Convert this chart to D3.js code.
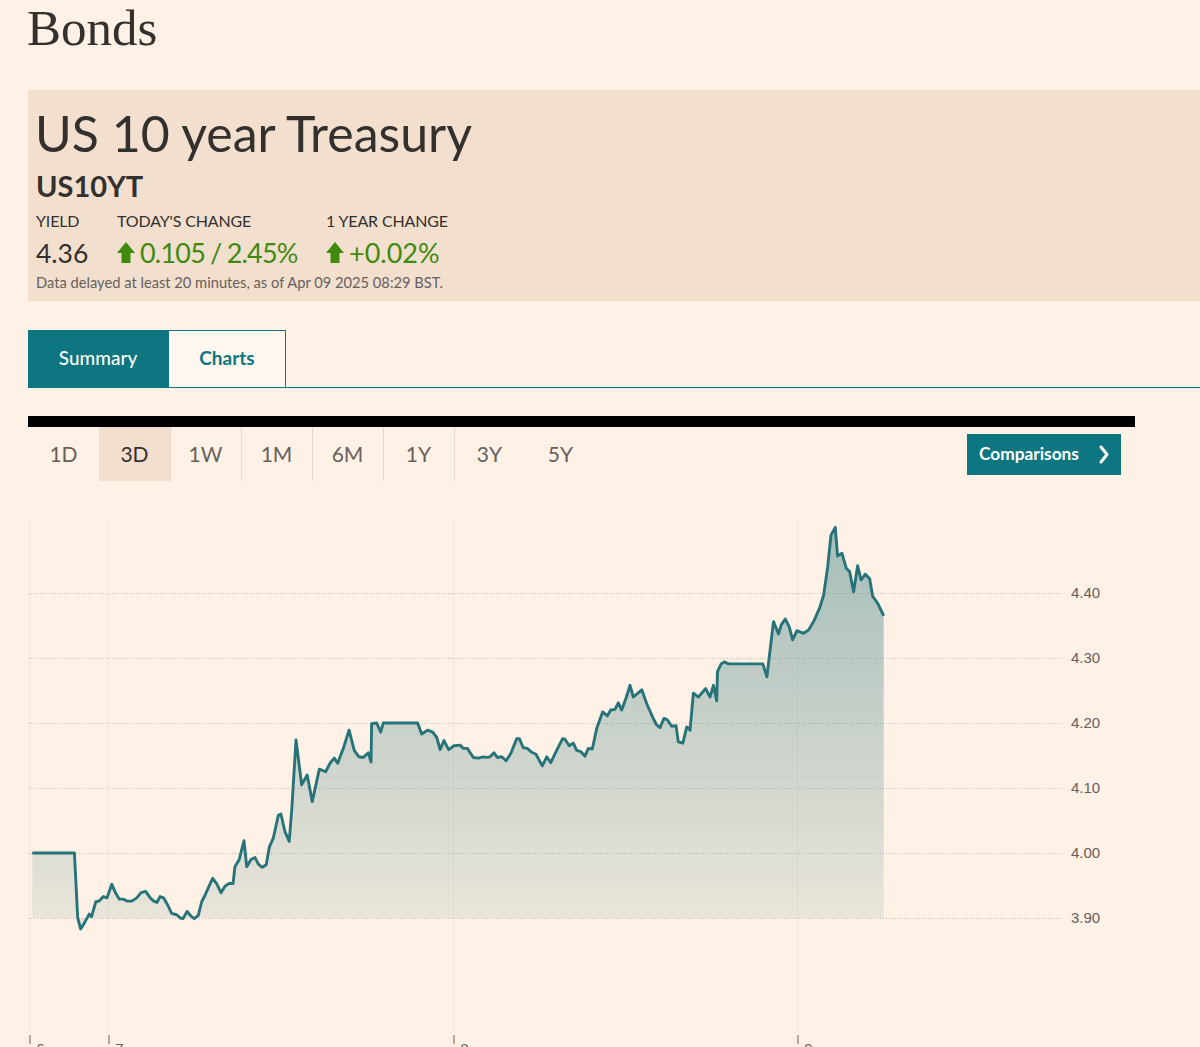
<!DOCTYPE html>
<html>
<head>
<meta charset="utf-8">
<script src="https://cdn.jsdelivr.net/npm/d3@7"></script>
<style>
  html, body { margin: 0; padding: 0; background: #fff1e5; overflow: hidden; }
  svg { display: block; }
</style>
</head>
<body>
<svg id="page" width="1200" height="1047"></svg>
<script>
"use strict";

// Data (hours since Apr 6 00:00, yield %)
const hours = [
  1.0, 13.8, 14.8, 15.7, 17.0, 18.3, 19.0, 20.3, 21.3, 22.6, 23.7,
  24.26, 24.54, 24.79, 25.09, 25.32, 25.65, 26.0, 26.3, 26.62, 26.94,
  27.18, 27.41, 27.62, 27.87, 28.15, 28.43, 28.78, 29.03, 29.22, 29.5,
  29.77, 30.0, 30.28, 30.52, 30.75, 31.03, 31.28, 31.56, 31.86, 32.14,
  32.42, 32.7, 32.83, 33.13, 33.46, 33.65, 33.95, 34.23, 34.46, 34.73,
  35.01, 35.22, 35.5, 35.85, 36.03, 36.31, 36.61, 36.78, 37.08, 37.47,
  37.86, 38.21, 38.7, 39.14, 39.44, 39.74, 39.98, 40.37, 40.77, 41.13,
  41.46, 41.76, 42.11, 42.3, 42.34, 42.69, 42.97, 43.15, 45.54, 45.82,
  46.24, 46.59, 46.87, 47.1, 47.37, 47.7, 48.07, 48.49, 48.72, 49.0,
  49.42, 49.77, 50.11, 50.35, 50.58, 50.86, 51.09, 51.4, 51.7, 52.03,
  52.45, 52.63, 52.9, 53.18, 53.49, 53.79, 54.23, 54.54, 54.82, 55.23,
  55.65, 55.81, 56.11, 56.39, 56.63, 56.91, 57.21, 57.44, 57.72, 58.03,
  58.44, 58.77, 59.0, 59.3, 59.53, 59.77, 60.07, 60.35, 60.58, 61.17,
  61.51, 61.97, 62.21, 62.44, 62.72, 62.95, 63.26, 63.56, 63.72, 64.03,
  64.31, 64.54, 64.77, 65.12, 65.63, 65.93, 66.17, 66.4, 66.45, 66.71,
  66.92, 67.22, 69.62, 69.9, 70.36, 70.71, 70.9, 71.18, 71.46, 71.69,
  72.0, 72.46, 72.81, 73.16, 73.58, 73.86, 74.14, 74.37, 74.67, 74.83,
  75.14, 75.44, 75.67, 75.95, 76.23, 76.47, 76.77, 77.07, 77.28, 77.63,
  78.05
];
const yields = [
  4.000, 4.000, 3.900, 3.883, 3.894, 3.906, 3.902, 3.925, 3.926, 3.933, 3.931,
  3.952, 3.938, 3.929, 3.929, 3.926, 3.926, 3.931, 3.939, 3.941, 3.931,
  3.926, 3.924, 3.933, 3.931, 3.920, 3.907, 3.905, 3.900, 3.899, 3.910,
  3.903, 3.899, 3.904, 3.925, 3.935, 3.949, 3.961, 3.953, 3.939, 3.949,
  3.953, 3.953, 3.979, 3.990, 4.019, 3.979, 3.990, 3.993, 3.983, 3.978,
  3.982, 4.009, 4.023, 4.058, 4.060, 4.033, 4.018, 4.066, 4.174, 4.105,
  4.120, 4.079, 4.129, 4.125, 4.138, 4.146, 4.138, 4.161, 4.189, 4.158,
  4.148, 4.147, 4.154, 4.140, 4.199, 4.200, 4.186, 4.200, 4.200, 4.183,
  4.189, 4.186, 4.178, 4.159, 4.173, 4.159, 4.165, 4.166, 4.161, 4.161,
  4.147, 4.146, 4.148, 4.147, 4.148, 4.154, 4.147, 4.148, 4.142, 4.153,
  4.176, 4.176, 4.162, 4.161, 4.155, 4.152, 4.134, 4.148, 4.139, 4.158,
  4.176, 4.175, 4.165, 4.169, 4.158, 4.156, 4.149, 4.161, 4.160, 4.192,
  4.217, 4.211, 4.220, 4.221, 4.231, 4.220, 4.238, 4.258, 4.240, 4.251,
  4.230, 4.207, 4.197, 4.193, 4.207, 4.205, 4.195, 4.196, 4.171, 4.169,
  4.194, 4.189, 4.246, 4.240, 4.253, 4.240, 4.258, 4.234, 4.279, 4.291,
  4.294, 4.291, 4.291, 4.271, 4.356, 4.337, 4.351, 4.360, 4.348, 4.328,
  4.342, 4.338, 4.343, 4.356, 4.377, 4.397, 4.440, 4.489, 4.501, 4.457,
  4.461, 4.438, 4.433, 4.402, 4.442, 4.420, 4.429, 4.422, 4.395, 4.384,
  4.365
];

const dayTicks = [0, 24, 48, 72];
const dayLabels = ["6", "7", "8", "9"];
const yTicks = [3.9, 4.0, 4.1, 4.2, 4.3, 4.4];
const periods = ["1D", "3D", "1W", "1M", "6M", "1Y", "3Y", "5Y"];
const selectedPeriod = "3D";
const areaBase = 3.9;

const points = hours.map((h, i) => ({ h: h, v: yields[i] }));

const SANS = "Lato, 'Open Sans', sans-serif";
const TEAL = "#0d7680";
const INK = "#33302e";
const GREY = "#66605c";
const GREEN = "#3f8a0d";

const svg = d3.select("#page");

// Page title
svg.append("text")
  .attr("x", 27).attr("y", 45)
  .attr("font-family", "'Liberation Serif', Georgia, serif")
  .attr("font-size", 51)
  .attr("fill", INK)
  .text("Bonds");

// Quote header box
const head = svg.append("g");
head.append("rect")
  .attr("x", 28).attr("y", 90)
  .attr("width", 1172).attr("height", 211)
  .attr("fill", "#f2dfce");

head.append("text")
  .attr("x", 35).attr("y", 152)
  .attr("font-family", SANS).attr("font-size", 50)
  .attr("fill", INK)
  .text("US 10 year Treasury");

head.append("text")
  .attr("x", 36).attr("y", 197)
  .attr("font-family", SANS).attr("font-size", 29).attr("font-weight", 700)
  .attr("fill", INK)
  .text("US10YT");

const labels = [["YIELD", 36], ["TODAY'S CHANGE", 117], ["1 YEAR CHANGE", 326]];
head.selectAll("text.lbl")
  .data(labels)
  .enter().append("text")
  .attr("class", "lbl")
  .attr("x", d => d[1]).attr("y", 227)
  .attr("font-family", SANS).attr("font-size", 16)
  .attr("letter-spacing", -0.15)
  .attr("fill", INK)
  .text(d => d[0]);

head.append("text")
  .attr("x", 36).attr("y", 263)
  .attr("font-family", SANS).attr("font-size", 26.5)
  .attr("fill", INK)
  .text("4.36");

function upArrow(x, y) {
  // x,y = top-left of the 18x22 arrow box
  head.append("path")
    .attr("d", d3.line()([
      [x + 9, y], [x + 18, y + 11], [x + 13.5, y + 11], [x + 13.5, y + 21],
      [x + 4.5, y + 21], [x + 4.5, y + 11], [x, y + 11]
    ]) + "Z")
    .attr("fill", GREEN);
}
upArrow(117, 242);
upArrow(326, 242);

head.append("text")
  .attr("x", 140).attr("y", 263)
  .attr("font-family", SANS).attr("font-size", 27)
  .attr("letter-spacing", -0.8).attr("word-spacing", -1)
  .attr("fill", GREEN)
  .text("0.105 / 2.45%");

head.append("text")
  .attr("x", 349).attr("y", 263)
  .attr("font-family", SANS).attr("font-size", 27)
  .attr("fill", GREEN)
  .text("+0.02%");

head.append("text")
  .attr("x", 36).attr("y", 288)
  .attr("font-family", SANS).attr("font-size", 14.7)
  .attr("fill", GREY)
  .text("Data delayed at least 20 minutes, as of Apr 09 2025 08:29 BST.");

// Tabs
const tabs = svg.append("g");
tabs.append("line")
  .attr("x1", 285).attr("x2", 1200)
  .attr("y1", 387.5).attr("y2", 387.5)
  .attr("stroke", TEAL).attr("stroke-width", 1);
tabs.append("rect")
  .attr("x", 168.5).attr("y", 330.5)
  .attr("width", 117).attr("height", 57)
  .attr("fill", "#fff7f0").attr("stroke", TEAL).attr("stroke-width", 1);
tabs.append("rect")
  .attr("x", 28).attr("y", 330)
  .attr("width", 141).attr("height", 58)
  .attr("fill", TEAL);
tabs.append("text")
  .attr("x", 98).attr("y", 365)
  .attr("text-anchor", "middle")
  .attr("font-family", SANS).attr("font-size", 19).attr("font-weight", 500)
  .attr("fill", "#ffffff")
  .text("Summary");
tabs.append("text")
  .attr("x", 227).attr("y", 365)
  .attr("text-anchor", "middle")
  .attr("font-family", SANS).attr("font-size", 19).attr("font-weight", 700)
  .attr("fill", TEAL)
  .text("Charts");

// Black rule + period selector
svg.append("rect")
  .attr("x", 28).attr("y", 416)
  .attr("width", 1107).attr("height", 11)
  .attr("fill", "#000");

const periodScale = d3.scaleBand()
  .domain(periods)
  .range([28, 596]);

const pg = svg.append("g");
pg.selectAll("rect")
  .data(periods.filter(p => p === selectedPeriod))
  .enter().append("rect")
  .attr("x", d => periodScale(d))
  .attr("y", 427)
  .attr("width", periodScale.bandwidth())
  .attr("height", 54)
  .attr("fill", "#f2dfce");
pg.selectAll("line")
  .data(periods.slice(2, 7))
  .enter().append("line")
  .attr("x1", d => Math.round(periodScale(d)) + 0.5)
  .attr("x2", d => Math.round(periodScale(d)) + 0.5)
  .attr("y1", 427).attr("y2", 481)
  .attr("stroke", "#e6d9ce");
pg.selectAll("text")
  .data(periods)
  .enter().append("text")
  .attr("x", d => periodScale(d) + periodScale.bandwidth() / 2)
  .attr("y", 462)
  .attr("text-anchor", "middle")
  .attr("font-family", SANS).attr("font-size", 21)
  .attr("fill", d => d === selectedPeriod ? INK : GREY)
  .text(d => d);

// Comparisons button
svg.append("rect")
  .attr("x", 967).attr("y", 434)
  .attr("width", 154).attr("height", 41)
  .attr("fill", TEAL);
svg.append("text")
  .attr("x", 979).attr("y", 460)
  .attr("font-family", SANS).attr("font-size", 17.3).attr("font-weight", 700)
  .attr("fill", "#ffffff")
  .text("Comparisons");
svg.append("path")
  .attr("d", "M1101,447 L1107,454.5 L1101,462")
  .attr("fill", "none").attr("stroke", "#ffffff")
  .attr("stroke-width", 3).attr("stroke-linecap", "round").attr("stroke-linejoin", "round");

// Chart
const plot = { top: 522, bottom: 1040, left: 28, right: 1062 };

const x = d3.scaleLinear()
  .domain(dayTicks)
  .range([29, 108, 453, 797]);

const y = d3.scaleLinear()
  .domain([3.9, 4.4])
  .range([918, 593]);

const chart = svg.append("g");

const defs = svg.append("defs");
const grad = defs.append("linearGradient")
  .attr("id", "fillGrad")
  .attr("gradientUnits", "userSpaceOnUse")
  .attr("x1", 0).attr("x2", 0)
  .attr("y1", plot.top).attr("y2", plot.bottom);
grad.append("stop").attr("offset", 0)
  .attr("stop-color", "#26747a").attr("stop-opacity", 0.42);
grad.append("stop").attr("offset", 1)
  .attr("stop-color", "#26747a").attr("stop-opacity", 0);

// horizontal grid
chart.append("g")
  .selectAll("line")
  .data(yTicks)
  .enter().append("line")
  .attr("x1", plot.left).attr("x2", plot.right)
  .attr("y1", d => Math.round(y(d)) + 0.5)
  .attr("y2", d => Math.round(y(d)) + 0.5)
  .attr("stroke", "#c9bdb2")
  .attr("stroke-dasharray", "1,2");

// vertical grid
chart.append("g")
  .selectAll("line")
  .data(dayTicks)
  .enter().append("line")
  .attr("x1", d => Math.round(x(d)) + 0.5)
  .attr("x2", d => Math.round(x(d)) + 0.5)
  .attr("y1", plot.top).attr("y2", plot.bottom - 8)
  .attr("stroke", "#d3c7bc")
  .attr("stroke-dasharray", "1,3");

// area + line
chart.append("path")
  .datum(points)
  .attr("d", d3.area()
    .x(d => x(d.h))
    .y0(y(areaBase))
    .y1(d => y(d.v)))
  .attr("fill", "url(#fillGrad)");

chart.append("path")
  .datum(points)
  .attr("d", d3.line()
    .x(d => x(d.h))
    .y(d => y(d.v)))
  .attr("fill", "none")
  .attr("stroke", "#26747a")
  .attr("stroke-width", 2.9)
  .attr("stroke-linejoin", "round");

// y axis on the right
const yAxis = d3.axisRight(y)
  .tickValues(yTicks)
  .tickSize(0)
  .tickPadding(0)
  .tickFormat(d3.format(".2f"));

chart.append("g")
  .attr("transform", "translate(1071,0)")
  .call(yAxis)
  .call(g => g.select(".domain").remove())
  .selectAll("text")
  .attr("font-family", "'Liberation Sans', Arial, sans-serif")
  .attr("font-size", 15)
  .attr("fill", GREY);

// x axis at the bottom (labels cut off by the window)
const xAxis = d3.axisBottom(x)
  .tickValues(dayTicks)
  .tickSize(9)
  .tickPadding(0)
  .tickFormat((d, i) => dayLabels[i]);

const gx = chart.append("g")
  .attr("transform", "translate(0,1035)")
  .call(xAxis);
gx.select(".domain").remove();
gx.selectAll(".tick line").attr("stroke", GREY).attr("transform", "translate(0.5,0)");
gx.selectAll(".tick text")
  .attr("x", 11).attr("y", 8)
  .attr("dy", "0.71em")
  .attr("font-family", "'Liberation Sans', Arial, sans-serif")
  .attr("font-size", 15)
  .attr("fill", GREY);
</script>
</body>
</html>
